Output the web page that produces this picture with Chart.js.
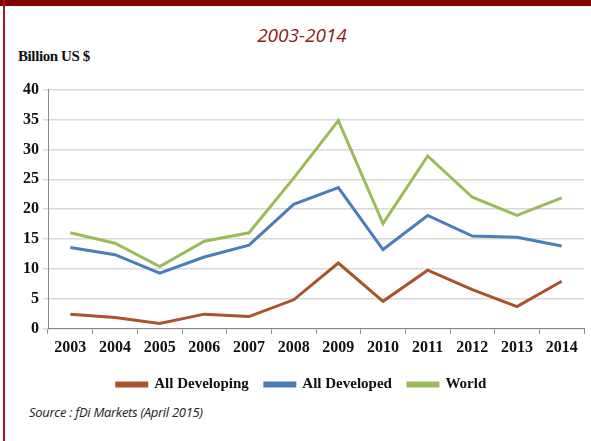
<!DOCTYPE html>
<html>
<head>
<meta charset="utf-8">
<script src="https://cdn.jsdelivr.net/npm/chart.js@4.4.0/dist/chart.umd.min.js"></script>
<style>
  body { margin:0; width:591px; height:441px; background:#fff; position:relative; overflow:hidden; }
  #topbar { position:absolute; left:0; top:0; width:591px; height:6px; background:#800000; }
  #leftbar { position:absolute; left:3px; top:0; width:2px; height:441px; background:#a01a1a; }
  #title { position:absolute; left:0; width:604px; top:22px; text-align:center; font:italic 19px "Open Sans", sans-serif; color:#8b1a1a; }
  #unit { position:absolute; left:18px; top:48px; font:bold 15px "Liberation Serif", serif; color:#111; letter-spacing:-0.4px; }
  #source { position:absolute; left:29px; top:403px; font:italic 13px "Open Sans", sans-serif; color:#222; letter-spacing:-0.3px; }
  #wrap { position:absolute; left:8px; top:76px; width:580px; height:326px; }
</style>
</head>
<body>
<div id="topbar"></div>
<div id="leftbar"></div>
<div id="title">2003-2014</div>
<div id="unit">Billion US $</div>
<div id="source">Source : fDi Markets (April 2015)</div>
<div id="wrap"><canvas id="chart"></canvas></div>
<script>
let years=["2003","2004","2005","2006","2007","2008","2009","2010","2011","2012","2013","2014"];
let developing=[2.45,1.9,0.9,2.45,2.05,4.85,11.0,4.6,9.8,6.55,3.7,7.95];
let developed=[13.6,12.4,9.3,12.0,14.0,20.8,23.6,13.25,18.95,15.5,15.3,13.85];
let world=[16.05,14.3,10.4,14.65,16.05,25.2,34.8,17.6,28.9,22.0,18.95,21.9];
let yTicks=[0,5,10,15,20,25,30,35,40];

const tickFont={family:"Liberation Serif", weight:"bold", size:16};

new Chart(document.getElementById("chart"), {
  type:'line',
  data:{
    labels:years,
    datasets:[
      {label:"All Developing", data:developing, borderColor:"#a9532b", backgroundColor:"#a9532b", borderWidth:3, pointRadius:0, tension:0},
      {label:"All Developed", data:developed, borderColor:"#4a7ebb", backgroundColor:"#4a7ebb", borderWidth:3, pointRadius:0, tension:0},
      {label:"World", data:world, borderColor:"#9bbb59", backgroundColor:"#9bbb59", borderWidth:3, pointRadius:0, tension:0}
    ]
  },
  options:{
    responsive:true,
    maintainAspectRatio:false,
    animation:false,
    layout:{padding:{left:11,right:4,top:4,bottom:0}},
    plugins:{
      legend:{
        position:'bottom',
        labels:{boxWidth:30, boxHeight:3, color:"#111", padding:16, font:{family:"Liberation Serif", weight:"bold", size:15}}
      },
      tooltip:{enabled:false}
    },
    scales:{
      x:{
        offset:true,
        grid:{offset:true, drawOnChartArea:false, drawTicks:true, tickLength:5, color:"#888"},
        border:{color:"#888"},
        ticks:{color:"#111", font:tickFont, padding:4, maxRotation:0, autoSkip:false}
      },
      y:{
        min:0, max:40,
        afterBuildTicks:(s)=>{ s.ticks=yTicks.map(v=>({value:v})); },
        grid:{color:"#d9d9d9", lineWidth:1.5, tickLength:5, drawTicks:true},
        border:{color:"#888"},
        ticks:{color:"#111", font:tickFont, padding:4}
      }
    }
  }
});
</script>
</body>
</html>
